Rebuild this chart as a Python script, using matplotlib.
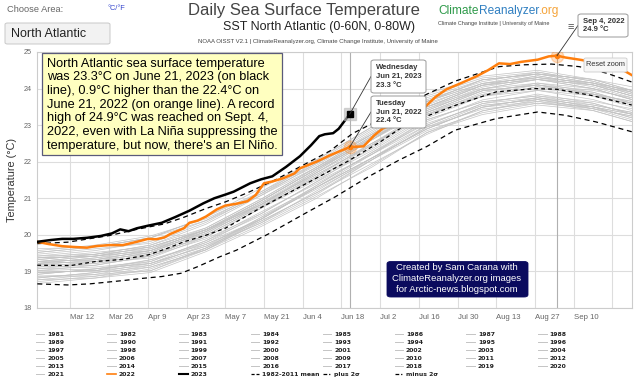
import numpy as np
import matplotlib
matplotlib.use("Agg")
import matplotlib.pyplot as plt
from matplotlib.patches import FancyBboxPatch, Rectangle
from matplotlib.lines import Line2D

plt.rcParams['font.family'] = ['Liberation Sans', 'DejaVu Sans']

# ---------------- data ----------------
doy_2023 = [59, 64, 68, 72, 77, 82, 86, 89, 92, 95, 99, 104, 109, 114, 119, 123, 127, 130,
            136, 140, 144, 149, 154, 158, 161, 163, 166, 168, 170, 172]
t_2023 = [19.81, 19.86, 19.89, 19.89, 19.92, 19.97, 20.04, 20.15, 20.10, 20.18, 20.25, 20.33,
          20.49, 20.66, 20.86, 21.00, 21.10, 21.18, 21.41, 21.52, 21.60, 21.86, 22.15, 22.45,
          22.70, 22.75, 22.78, 22.90, 23.10, 23.30]

doy_2022 = [59, 63, 68, 72, 77, 80, 85, 90, 95, 99, 102, 105, 107, 112, 114, 117, 120, 124,
            127, 131, 135, 138, 141, 144, 148, 152, 154, 160, 165, 172, 177, 181, 184, 190,
            196, 200, 203, 207, 212, 218, 222, 226, 230, 234, 240, 244, 247, 250, 256, 261,
            266, 271, 274]
t_2022 = [19.81, 19.75, 19.69, 19.67, 19.65, 19.69, 19.72, 19.72, 19.81, 19.89, 19.88, 19.93,
          20.02, 20.18, 20.33, 20.39, 20.50, 20.70, 20.80, 20.85, 20.92, 21.09, 21.41, 21.46,
          21.55, 21.68, 21.82, 22.00, 22.18, 22.40, 22.42, 22.73, 22.91, 23.10, 23.30, 23.55,
          23.77, 23.98, 24.14, 24.34, 24.50, 24.69, 24.67, 24.73, 24.79, 24.88, 24.90, 24.85,
          24.78, 24.70, 24.64, 24.50, 24.37]

doy_mean = [59, 71, 80, 90, 99, 106, 112, 120, 127, 140, 153, 171, 183, 194, 200, 212, 225,
            239, 247, 259, 274]
t_mean = [19.17, 19.16, 19.27, 19.33, 19.45, 19.63, 19.81, 19.99, 20.18, 20.75, 21.27, 22.00,
          22.54, 23.10, 23.25, 23.59, 23.91, 24.00, 23.98, 23.82, 23.55]

doy_plus = [59, 70, 85, 95, 105, 112, 120, 127, 135, 145, 155, 165, 173, 179, 190, 200, 210,
            220, 226, 235, 245, 255, 265, 274]
t_plus = [19.76, 19.80, 19.98, 20.15, 20.30, 20.48, 20.72, 20.90, 21.15, 21.50, 21.90, 22.30,
          22.77, 23.00, 23.45, 23.85, 24.20, 24.45, 24.60, 24.65, 24.67, 24.60, 24.42, 24.18]

doy_minus = [59, 70, 78, 90, 97, 104, 111, 117, 125, 131, 143, 155, 167, 179, 190, 200, 210,
             225, 240, 250, 261, 274]
t_minus = [18.66, 18.63, 18.66, 18.75, 18.81, 18.86, 18.95, 19.13, 19.40, 19.58, 20.04, 20.55,
           21.05, 21.60, 22.05, 22.42, 22.86, 23.18, 23.36, 23.27, 23.09, 22.82]

# historic years 1981-2021: knots and anomalies (relative to the mean at the knots)
gray_years = list(range(1981, 2022))
gray_knots = [59, 80, 100, 120, 140, 160, 180, 200, 220, 240, 260, 274]
gray_knot_mean = [19.17, 19.27, 19.47, 19.99, 20.73, 21.55, 22.40, 23.25, 23.79, 24.00, 23.80, 23.55]
gray_anoms = [
    [-0.35, -0.30, -0.25, -0.30, -0.40, -0.45, -0.35, -0.30, -0.35, -0.40, -0.30, -0.25],
    [-0.45, -0.40, -0.35, -0.40, -0.45, -0.50, -0.55, -0.45, -0.40, -0.35, -0.40, -0.45],
    [-0.20, -0.25, -0.15, -0.20, -0.30, -0.25, -0.20, -0.10, -0.15, -0.20, -0.25, -0.20],
    [-0.40, -0.35, -0.45, -0.40, -0.35, -0.40, -0.45, -0.50, -0.40, -0.30, -0.35, -0.40],
    [-0.30, -0.40, -0.45, -0.35, -0.25, -0.30, -0.35, -0.40, -0.45, -0.40, -0.35, -0.30],
    [-0.50, -0.45, -0.40, -0.35, -0.40, -0.35, -0.30, -0.35, -0.30, -0.25, -0.30, -0.35],
    [-0.15, -0.20, -0.25, -0.20, -0.15, -0.10, -0.20, -0.25, -0.20, -0.15, -0.20, -0.25],
    [-0.25, -0.20, -0.15, -0.25, -0.30, -0.20, -0.15, -0.20, -0.25, -0.30, -0.25, -0.20],
    [-0.35, -0.30, -0.35, -0.40, -0.30, -0.25, -0.30, -0.35, -0.30, -0.25, -0.20, -0.25],
    [-0.10, -0.15, -0.20, -0.15, -0.10, -0.15, -0.20, -0.15, -0.10, -0.05, -0.10, -0.15],
    [-0.20, -0.25, -0.20, -0.15, -0.20, -0.25, -0.30, -0.25, -0.20, -0.25, -0.30, -0.35],
    [-0.40, -0.45, -0.50, -0.45, -0.50, -0.55, -0.50, -0.45, -0.50, -0.45, -0.40, -0.45],
    [-0.30, -0.35, -0.30, -0.25, -0.35, -0.40, -0.35, -0.30, -0.25, -0.30, -0.35, -0.30],
    [-0.25, -0.20, -0.25, -0.30, -0.25, -0.20, -0.15, -0.10, -0.15, -0.20, -0.15, -0.10],
    [-0.05, -0.10, -0.05, 0.00, 0.05, 0.10, 0.05, 0.10, 0.15, 0.10, 0.05, 0.00],
    [-0.20, -0.25, -0.30, -0.35, -0.30, -0.25, -0.30, -0.35, -0.30, -0.35, -0.30, -0.25],
    [-0.15, -0.10, -0.05, -0.10, -0.15, -0.10, 0.00, 0.05, 0.00, -0.05, 0.00, 0.05],
    [0.10, 0.15, 0.20, 0.15, 0.10, 0.20, 0.25, 0.20, 0.15, 0.10, 0.15, 0.20],
    [0.05, 0.00, -0.05, 0.00, 0.05, 0.00, 0.05, 0.10, 0.05, 0.00, 0.05, 0.00],
    [-0.10, -0.05, -0.10, -0.05, 0.00, -0.05, -0.10, -0.05, 0.00, 0.05, 0.00, -0.05],
    [0.00, 0.05, 0.00, -0.05, 0.00, 0.05, 0.10, 0.05, 0.00, 0.05, 0.10, 0.05],
    [-0.05, 0.00, 0.05, 0.10, 0.05, 0.00, -0.05, 0.00, 0.05, 0.10, 0.05, 0.10],
    [0.05, 0.10, 0.15, 0.10, 0.20, 0.25, 0.20, 0.25, 0.30, 0.25, 0.20, 0.15],
    [0.10, 0.05, 0.10, 0.15, 0.10, 0.15, 0.20, 0.15, 0.20, 0.25, 0.20, 0.15],
    [0.15, 0.20, 0.15, 0.20, 0.25, 0.30, 0.35, 0.40, 0.35, 0.30, 0.35, 0.30],
    [0.20, 0.15, 0.10, 0.15, 0.20, 0.25, 0.30, 0.25, 0.20, 0.25, 0.30, 0.25],
    [0.05, 0.10, 0.05, 0.10, 0.15, 0.10, 0.05, 0.10, 0.15, 0.10, 0.05, 0.10],
    [0.10, 0.15, 0.20, 0.15, 0.10, 0.05, 0.10, 0.15, 0.20, 0.15, 0.10, 0.05],
    [0.00, -0.05, 0.00, 0.05, 0.10, 0.15, 0.10, 0.05, 0.10, 0.15, 0.20, 0.15],
    [0.40, 0.45, 0.50, 0.45, 0.40, 0.45, 0.50, 0.55, 0.50, 0.45, 0.40, 0.35],
    [0.15, 0.20, 0.25, 0.20, 0.25, 0.30, 0.25, 0.20, 0.25, 0.30, 0.25, 0.20],
    [0.25, 0.30, 0.35, 0.40, 0.45, 0.40, 0.35, 0.40, 0.45, 0.40, 0.35, 0.40],
    [0.20, 0.25, 0.20, 0.15, 0.20, 0.25, 0.30, 0.35, 0.30, 0.25, 0.30, 0.35],
    [0.10, 0.05, 0.10, 0.15, 0.20, 0.25, 0.20, 0.25, 0.30, 0.35, 0.30, 0.25],
    [0.05, 0.00, 0.05, 0.10, 0.15, 0.20, 0.25, 0.30, 0.35, 0.40, 0.35, 0.30],
    [0.30, 0.35, 0.30, 0.35, 0.40, 0.35, 0.40, 0.45, 0.40, 0.45, 0.40, 0.35],
    [0.35, 0.40, 0.45, 0.40, 0.35, 0.30, 0.35, 0.40, 0.35, 0.30, 0.35, 0.40],
    [0.20, 0.15, 0.10, 0.05, 0.10, 0.15, 0.20, 0.25, 0.30, 0.35, 0.30, 0.25],
    [0.25, 0.20, 0.25, 0.30, 0.35, 0.40, 0.45, 0.40, 0.45, 0.40, 0.45, 0.40],
    [0.45, 0.40, 0.45, 0.50, 0.55, 0.50, 0.55, 0.60, 0.55, 0.50, 0.45, 0.40],
    [0.35, 0.40, 0.45, 0.50, 0.45, 0.50, 0.55, 0.50, 0.45, 0.40, 0.45, 0.50],
]

tick_doys = [71, 85, 99, 113, 127, 141, 155, 169, 183, 197, 211, 225, 239, 253]
tick_labels = ['Mar 12', 'Mar 26', 'Apr 9', 'Apr 23', 'May 7', 'May 21', 'Jun 4', 'Jun 18',
               'Jul 2', 'Jul 16', 'Jul 30', 'Aug 13', 'Aug 27', 'Sep 10']
extra_grid_doys = [267]
y_ticks = [18, 19, 20, 21, 22, 23, 24, 25]

hl_2023 = (172, 23.3)
hl_2022 = (172, 22.4)
hl_peak = (247, 24.9)

ORANGE = '#ff7f0e'
W, H = 640, 381

def fx(x):
    return x / W

def fy(y):
    return 1 - y / H

fig = plt.figure(figsize=(6.4, 3.81), dpi=100)
ax = fig.add_axes([fx(37.3), fy(308), fx(631.7) - fx(37.3), fy(52) - fy(308)])

# gray historic lines
for yr, an in zip(gray_years, gray_anoms):
    vals = np.array(gray_knot_mean) + np.array(an)
    ax.plot(gray_knots, vals, color='#c4c4c4', lw=0.5, zorder=2)

ax.plot(doy_minus, t_minus, color='black', lw=0.9, dashes=(4, 3), zorder=3)
ax.plot(doy_plus, t_plus, color='black', lw=0.9, dashes=(4, 3), zorder=3)
ax.plot(doy_mean, t_mean, color='black', lw=0.9, dashes=(3, 2.5), zorder=3)
ax.plot(doy_2022, t_2022, color=ORANGE, lw=1.8, zorder=4)
ax.plot(doy_2023, t_2023, color='black', lw=1.8, zorder=5)

# highlight markers
ax.plot(*hl_2023, marker='s', ms=9, color='#bbbbbb', alpha=0.6, zorder=6)
ax.plot(*hl_2023, marker='s', ms=5, color='black', zorder=7)
for p in (hl_2022, hl_peak):
    ax.plot(*p, marker='o', ms=9, color=ORANGE, alpha=0.25, zorder=6)
    ax.plot(*p, marker='o', ms=3, color=ORANGE, zorder=7)

# crosshairs
for d in (hl_2023[0], hl_peak[0]):
    ax.axvline(d, color='#b0b0b0', lw=0.8, zorder=1)

ax.set_xlim(59, 274)
ax.set_ylim(18, 25)
ax.set_xticks(tick_doys + extra_grid_doys)
ax.set_xticklabels(tick_labels + [''], ha='left')
ax.set_yticks(y_ticks)
ax.tick_params(axis='x', length=0, pad=4, labelsize=5.6, colors='#666666')
ax.tick_params(axis='y', length=0, pad=4, labelsize=5.2, colors='#666666')
ax.grid(True, color='#dddddd', lw=0.8, zorder=0)
ax.set_axisbelow(True)
for s in ax.spines.values():
    s.set_color('#cccccc')
    s.set_linewidth(0.8)
ax.set_ylabel('Temperature (°C)', fontsize=7.8, color='#333333', labelpad=5)

# ---------------- header ----------------
fig.text(fx(7), fy(10), 'Choose Area:', fontsize=6.7, color='#666666', va='center')
fig.text(fx(108), fy(9), '°C/°F', fontsize=5.3, color='#3344cc', va='center')
fig.patches.append(FancyBboxPatch((fx(5), fy(44)), fx(105), fy(23) - fy(44),
                                  boxstyle='round,pad=0,rounding_size=0.004',
                                  transform=fig.transFigure, facecolor='#f2f2f2',
                                  edgecolor='#c8c8c8', lw=0.7))
fig.text(fx(11), fy(34), 'North Atlantic', fontsize=9, color='#222222', va='center')

fig.text(fx(304), fy(10), 'Daily Sea Surface Temperature', fontsize=12, color='#444444',
         ha='center', va='center')
fig.text(fx(319), fy(27), 'SST North Atlantic (0-60N, 0-80W)', fontsize=9, color='#222222',
         ha='center', va='center')
fig.text(fx(318), fy(41.5), 'NOAA OISST V2.1 | ClimateReanalyzer.org, Climate Change Institute, University of Maine',
         fontsize=4.3, color='#444444', ha='center', va='center')

# logo
t1 = fig.text(fx(438), fy(11), 'Climate', fontsize=8.6, color='#2e9a4a', va='center')
fig.canvas.draw()
r = fig.canvas.get_renderer()
bb = t1.get_window_extent(r)
t2 = fig.text(bb.x1 / W, fy(11), 'Reanalyzer', fontsize=8.6, color='#2f7fc1', va='center')
bb2 = t2.get_window_extent(r)
fig.text(bb2.x1 / W, fy(11), '.org', fontsize=8.6, color='#f5a43a', va='center')
fig.text(fx(438), fy(23), 'Climate Change Institute | University of Maine', fontsize=4.0,
         color='#444444', va='center')

# ---------------- annotation box ----------------
fig.patches.append(Rectangle((fx(42), fy(155)), fx(282) - fx(42), fy(53) - fy(155),
                             transform=fig.transFigure, facecolor='#ffffc0',
                             edgecolor='#5a5a7a', lw=0.9, zorder=10))
note_lines = ["North Atlantic sea surface temperature",
              "was 23.3°C on June 21, 2023 (on black",
              "line), 0.9°C higher than the 22.4°C on",
              "June 21, 2022 (on orange line). A record",
              "high of 24.9°C was reached on Sept. 4,",
              "2022, even with La Niña suppressing the",
              "temperature, but now, there's an El Niño."]
for i, ln in enumerate(note_lines):
    fig.text(fx(47), fy(63.5 + i * 13.75), ln, fontsize=9.2, color='black', va='center',
             zorder=11)

# ---------------- tooltips ----------------
def tooltip(lines, x0, y0, x1, y1, target):
    box = FancyBboxPatch((fx(x0), fy(y1)), fx(x1) - fx(x0), fy(y0) - fy(y1),
                         boxstyle='round,pad=0,rounding_size=0.005',
                         transform=fig.transFigure, facecolor='white',
                         edgecolor='#999999', lw=0.7, zorder=12)
    fig.patches.append(box)
    n = len(lines)
    step = (y1 - y0 - 6) / n
    for i, ln in enumerate(lines):
        fig.text(fx(x0 + 5), fy(y0 + 3 + step * (i + 0.5)), ln, fontsize=5.5, weight='bold',
                 color='#333333', va='center', zorder=13)
    # connector from box left side to the point
    disp = ax.transData.transform(target)
    fig.add_artist(Line2D([fx(x0), disp[0] / W], [fy((y0 + y1) / 2), disp[1] / H],
                          transform=fig.transFigure, color='#333333', lw=0.6, zorder=11))

tooltip(['Wednesday', 'Jun 21, 2023', '23.3 °C'], 371, 60, 426, 93, hl_2023)
tooltip(['Tuesday', 'Jun 21, 2022', '22.4 °C'], 371, 96, 426, 128, hl_2022)
tooltip(['Sep 4, 2022', '24.9 °C'], 578, 14, 628, 37, hl_peak)
fig.text(fx(571), fy(27), '≡', fontsize=8, color='#555555', ha='center', va='center', zorder=14)

# reset zoom button
fig.patches.append(FancyBboxPatch((fx(584), fy(72)), fx(627) - fx(584), fy(58) - fy(72),
                                  boxstyle='round,pad=0,rounding_size=0.003',
                                  transform=fig.transFigure, facecolor='#f7f7f7',
                                  edgecolor='#cccccc', lw=0.6, zorder=12))
fig.text(fx(605.5), fy(65), 'Reset zoom', fontsize=5.3, color='#333333', ha='center',
         va='center', zorder=13)

# credit box
fig.patches.append(FancyBboxPatch((fx(387), fy(297)), fx(528) - fx(387), fy(261.5) - fy(297),
                                  boxstyle='round,pad=0,rounding_size=0.006',
                                  transform=fig.transFigure, facecolor='#0b0b5e',
                                  edgecolor='#0b0b5e', lw=0.6, zorder=12))
for i, ln in enumerate(["Created by Sam Carana with", "ClimateReanalyzer.org images",
                        "for Arctic-news.blogspot.com"]):
    fig.text(fx(457), fy(267.5 + i * 11), ln, fontsize=6.8, color='white', ha='center',
             va='center', zorder=13)

# ---------------- legend ----------------
legend_items = [(str(y), dict(color='#c4c4c4', lw=0.7)) for y in gray_years]
legend_items += [('2022', dict(color=ORANGE, lw=1.2)),
                 ('2023', dict(color='black', lw=1.5)),
                 ('1982-2011 mean', dict(color='black', lw=0.9, dashes=(2.5, 1.5))),
                 ('plus 2σ', dict(color='black', lw=0.9, dashes=(3, 1.5, 1, 1.5))),
                 ('minus 2σ', dict(color='black', lw=0.9, dashes=(3, 1.5, 1, 1.5)))]
for i, (lab, st) in enumerate(legend_items):
    col, row = i % 8, i // 8
    x = 35.5 + col * 71.8
    y = 334.3 + row * 8.0
    fig.add_artist(Line2D([fx(x), fx(x + 8.5)], [fy(y), fy(y)], transform=fig.transFigure, **st))
    fig.text(fx(x + 11.5), fy(y), lab, fontsize=4.4, color='#222222', weight='bold',
             family='DejaVu Sans', va='center')

fig.savefig('out.png', dpi=100)
